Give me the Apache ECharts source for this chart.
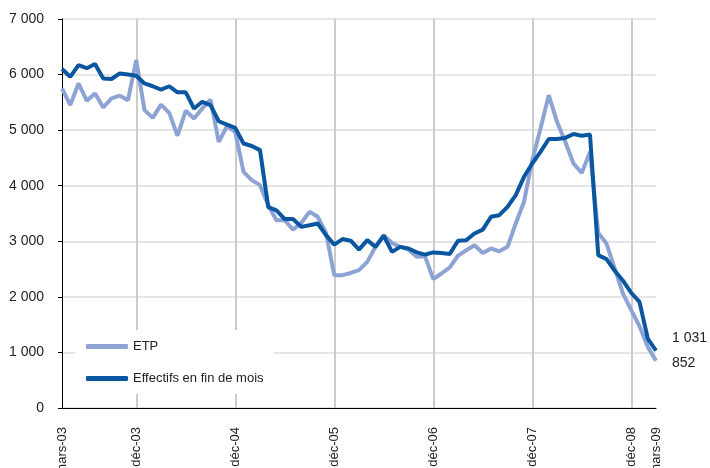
<!DOCTYPE html>
<html>
<head>
<meta charset="utf-8">
<script src="https://cdn.jsdelivr.net/npm/echarts@6/dist/echarts.min.js"></script>
<style>
  html, body { margin: 0; padding: 0; background: #fff; }
  #chart { width: 710px; height: 468px; }
</style>
</head>
<body>
<div id="chart"></div>
<script>
// mois de mars-03 à mars-09
const moisNoms = ['janv', 'févr', 'mars', 'avr', 'mai', 'juin', 'juil', 'août', 'sept', 'oct', 'nov', 'déc'];
const categories = [];
for (let a = 3; a <= 9; a++) {
  for (let m = 0; m < 12; m++) {
    if ((a === 3 && m < 2) || (a === 9 && m > 2)) continue;
    categories.push(moisNoms[m] + '-0' + a);
  }
}

// libellés affichés sur l'axe des abscisses
const tickLabels = ['mars-03', 'déc-03', 'déc-04', 'déc-05', 'déc-06', 'déc-07', 'déc-08', 'mars-09'];
const gridMonths = ['déc-03', 'déc-04', 'déc-05', 'déc-06', 'déc-07', 'déc-08'];

const etp = [
  5750, 5450, 5840, 5530, 5660, 5410, 5570, 5620, 5540, 6260,
  5360, 5220, 5460, 5310, 4900, 5350, 5210, 5390, 5550, 4790,
  5070, 4970, 4250, 4100, 4010, 3650, 3380, 3380, 3210, 3330,
  3530, 3440, 3150, 2390, 2390, 2430, 2480, 2630, 2900, 3110,
  2970, 2900, 2850, 2720, 2730, 2320, 2420, 2530, 2740, 2840,
  2930, 2790, 2870, 2820, 2900, 3320, 3710, 4460, 5030, 5630,
  5150, 4790, 4400, 4230, 4610, 3150, 2960, 2510, 2060, 1760,
  1470, 1100, 852
];

const effectifs = [
  6100, 5960, 6170, 6115, 6190, 5930, 5920, 6020, 6000, 5980,
  5840, 5790, 5730, 5790, 5680, 5680, 5390, 5510, 5450, 5160,
  5100, 5040, 4760, 4715, 4640, 3615, 3555, 3400, 3400, 3260,
  3290, 3320, 3110, 2940, 3040, 3010, 2850, 3020, 2900, 3100,
  2810, 2900, 2870, 2800, 2760, 2800, 2790, 2770, 3010, 3020,
  3140, 3210, 3440, 3470, 3620, 3830, 4160, 4400, 4610, 4840,
  4840, 4860, 4930, 4900, 4920, 2750, 2680, 2470, 2290, 2070,
  1910, 1250, 1031
];

const police = '"Liberation Sans Narrow", "Arial Narrow", "Liberation Sans", Arial, sans-serif';
const fmt = v => String(v).replace(/\B(?=(\d{3})+(?!\d))/g, ' ');

const chart = echarts.init(document.getElementById('chart'));

chart.setOption({
  animation: false,
  textStyle: { fontFamily: police },
  grid: { left: 62, right: 54, top: 19, bottom: 60, containLabel: false, outerBoundsMode: 'none' },
  legend: {
    orient: 'vertical',
    left: 75,
    top: 330,
    backgroundColor: '#fff',
    padding: [10, 10, 9, 11],
    itemGap: 19,
    itemWidth: 42,
    itemHeight: 5,
    icon: 'roundRect',
    textStyle: { fontFamily: police, fontSize: 13, color: '#222' },
    data: ['ETP', 'Effectifs en fin de mois']
  },
  xAxis: {
    type: 'category',
    data: categories,
    boundaryGap: false,
    axisLine: { lineStyle: { color: '#000', width: 1 } },
    axisTick: { show: false },
    axisLabel: {
      rotate: 90,
      margin: 19,
      fontSize: 13,
      color: '#222',
      fontFamily: police,
      hideOverlap: false,
      interval: (i, v) => tickLabels.includes(v)
    },
    splitLine: {
      show: true,
      interval: (i, v) => gridMonths.includes(v),
      lineStyle: { color: '#cbcbcb', width: 2 }
    }
  },
  yAxis: {
    type: 'value',
    min: 0,
    max: 7000,
    interval: 1000,
    axisLine: { show: true, lineStyle: { color: '#000', width: 1 } },
    axisTick: { show: true, length: 4, lineStyle: { color: '#000' } },
    axisLabel: { margin: 18, fontSize: 14, color: '#222', fontFamily: police, formatter: fmt },
    splitLine: { lineStyle: { color: '#dcdcdc', width: 1.5 } }
  },
  series: [
    {
      name: 'ETP',
      type: 'line',
      data: etp,
      symbol: 'none',
      color: '#8da3d4',
      lineStyle: { width: 4, color: '#8da3d4' },
      z: 2,
      endLabel: {
        show: true,
        distance: 16,
        offset: [0, 2],
        fontSize: 14,
        color: '#222',
        fontFamily: police,
        formatter: p => fmt(p.value)
      }
    },
    {
      name: 'Effectifs en fin de mois',
      type: 'line',
      data: effectifs,
      symbol: 'none',
      color: '#0a56a0',
      lineStyle: { width: 4, color: '#0a56a0' },
      z: 3,
      endLabel: {
        show: true,
        distance: 16,
        offset: [0, -13],
        fontSize: 14,
        color: '#222',
        fontFamily: police,
        formatter: p => fmt(p.value)
      }
    }
  ]
});
</script>
</body>
</html>
